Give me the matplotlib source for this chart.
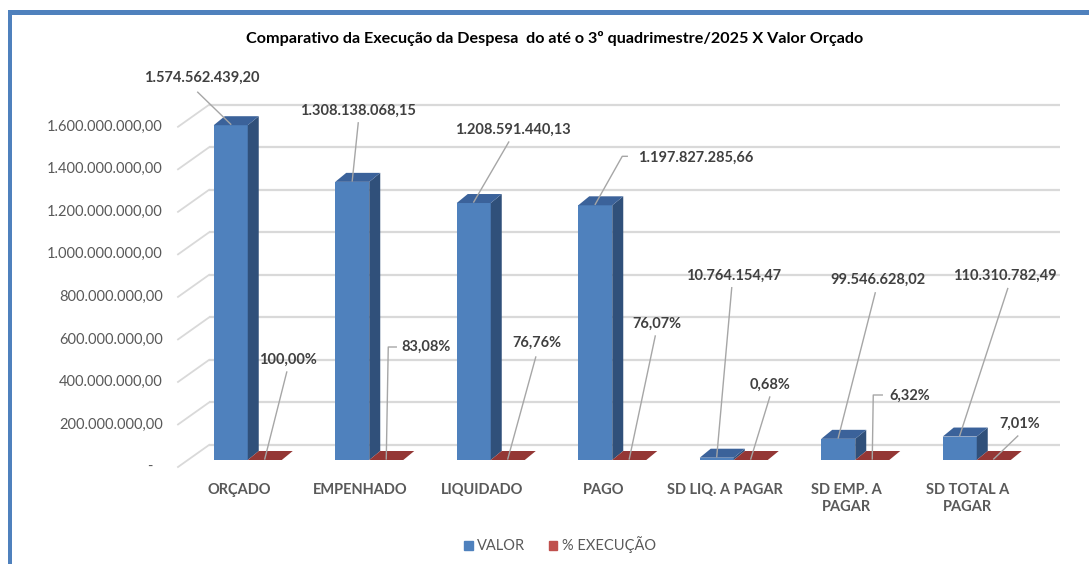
import matplotlib
matplotlib.use("Agg")
import matplotlib.pyplot as plt
from matplotlib.patches import Polygon, Rectangle, Patch
import numpy as np

plt.rcParams['font.family'] = ['Lato', 'DejaVu Sans']

# ---------------- data ----------------
categories = ["ORÇADO", "EMPENHADO", "LIQUIDADO", "PAGO",
              "SD LIQ. A PAGAR", "SD EMP. A\nPAGAR", "SD TOTAL A\nPAGAR"]
valor = [1574562439.20, 1308138068.15, 1208591440.13, 1197827285.66,
         10764154.47, 99546628.02, 110310782.49]
execucao = [1.0000, 0.8308, 0.7676, 0.7607, 0.0068, 0.0632, 0.0701]
yticks = [0, 200e6, 400e6, 600e6, 800e6, 1000e6, 1200e6, 1400e6, 1600e6]
title = "Comparativo da Execução da Despesa  do até o 3º quadrimestre/2025 X Valor Orçado"
series_names = ["VALOR", "% EXECUÇÃO"]

# ---------------- layout (pixels) ----------------
W, H = 1089, 564
AX_L, AX_R, AX_B, AX_T = 187.0, 1037.5, 460.0, 119.8
YMAX = 1.6e9
n = len(categories)
PX_X = (AX_R - AX_L) / n
PX_Y = (AX_B - AX_T) / YMAX

def off(dx, dy):
    return dx / PX_X, dy / PX_Y

BLUE = "#4F81BD"; BLUE_SIDE = "#30507A"; BLUE_TOP = "#3B629A"
RED = "#C0504D"; RED_TOP = "#943735"; RED_SIDE = "#7A2C2A"
GRID = "#D9D9D9"; TXT = "#595959"; LBL = "#404040"; LEAD = "#A6A6A6"

def fmt_br(v):
    s = f"{v:,.2f}"
    return s.replace(",", "X").replace(".", ",").replace("X", ".")

def fmt_pct(p):
    return f"{p*100:.2f}%".replace(".", ",")

fig = plt.figure(figsize=(W/100, H/100), dpi=100)
ax = fig.add_axes([AX_L/W, 1 - AX_B/H, (AX_R-AX_L)/W, (AX_B-AX_T)/H])
ax.set_xlim(-0.5, n - 0.5)
ax.set_ylim(0, YMAX)
ax.axis("off")

# borders
fig.add_artist(Rectangle((8/W, 0), 4/W, 1 - 10/H, transform=fig.transFigure,
                         color=BLUE, lw=0))
fig.add_artist(Rectangle((8/W, 1 - 15/H), 1 - 8/W, 5/H, transform=fig.transFigure,
                         color=BLUE, lw=0))

# back wall gridlines + depth diagonals
wx, wy = off(22, 15)
fx, fy = off(-9, -7)
for v in yticks:
    ax.plot([-0.5 + wx, n - 0.5 + wx], [v + wy, v + wy], color=GRID, lw=1.6,
            clip_on=False, zorder=1, solid_capstyle="butt")
    ax.plot([-0.5 + fx, -0.5 + wx], [v + fy, v + wy], color=GRID, lw=1.3,
            clip_on=False, zorder=1)
    lx, _ = off(-15, 0)
    lab = "-" if v == 0 else fmt_br(v)
    xlab = -0.5 + fx + lx + (off(-10, 0)[0] if v == 0 else 0)
    ax.text(xlab, v + fy, lab, ha="right", va="center", fontsize=10.5,
            color=TXT, clip_on=False)

# bars
x = np.arange(n)
bw = 0.28
bdx, bdy = off(11, 9)
ax.bar(x - bw/2, valor, width=bw, color=BLUE, zorder=3, lw=0)
ax.bar(x + bw/2, execucao, width=bw, color=RED, zorder=3, lw=0)

def faces(xc, v, side_c, top_c, z):
    x0, x1 = xc - bw/2, xc + bw/2
    side = Polygon([(x1, 0), (x1 + bdx, bdy), (x1 + bdx, v + bdy), (x1, v)],
                   closed=True, color=side_c, lw=0, zorder=z, clip_on=False)
    top = Polygon([(x0, v), (x1, v), (x1 + bdx, v + bdy), (x0 + bdx, v + bdy)],
                  closed=True, color=top_c, lw=0, zorder=z, clip_on=False)
    ax.add_patch(side)
    ax.add_patch(top)

for i in range(n):
    faces(x[i] - bw/2, valor[i], BLUE_SIDE, BLUE_TOP, 3)
    faces(x[i] + bw/2, execucao[i], RED_SIDE, RED_TOP, 4)

# category labels (floor front plane)
for i, c in enumerate(categories):
    _, dyl = off(0, -16)
    ax.text(x[i] + fx, fy + dyl, c, ha="center", va="top", fontsize=10.5,
            fontweight="bold", color=TXT, linespacing=1.3, clip_on=False)

# data labels: offsets in pixels from anchor (label centre, leader points)
valor_label_off = [(-29, 47), (6, 71), (39, 73), (100, 48), (17, 182), (40, 159), (45, 161)]
valor_leader = [[(-33, 33)], [(6, 59)], [(35, 61)], [(32, 49), (27, 49)],
                [(15, 170)], [(37, 146)], [(48, 148)]]
pct_label_off = [(23, 100), (40, 113), (29, 117), (28, 136), (19, 75), (37, 64), (26, 36)]
pct_leader = [[(22, 88)], [(10, 113), (2, 113)], [(28, 103)], [(26, 124)],
              [(19, 63)], [(10, 65), (1, 65)], [(24, 24)]]

def place(xa, ya, lab_off, leader, text):
    ox, oy = off(*lab_off)
    ax.text(xa + ox, ya + oy, text, ha="center", va="center", fontsize=10.5,
            fontweight="bold", color=LBL, zorder=10, clip_on=False)
    pts = [(xa + off(*p)[0], ya + off(*p)[1]) for p in leader]
    ex, ey = off(0, 1)
    pts.append((xa + ex, ya + ey))
    xs, ys = zip(*pts)
    ax.plot(xs, ys, color=LEAD, lw=1.0, zorder=9, clip_on=False)

for i in range(n):
    place(x[i] - bw/2, valor[i], valor_label_off[i], valor_leader[i], fmt_br(valor[i]))
    place(x[i] + bw/2, execucao[i], pct_label_off[i], pct_leader[i], fmt_pct(execucao[i]))

# title
fig.text(555/W, 1 - 38/H, title, ha="center", va="center", fontsize=11.6,
         fontweight="bold", color="black")

# legend
handles = [Patch(color=BLUE, label=series_names[0]),
           Patch(color=RED, label=series_names[1])]
fig.legend(handles=handles, loc="center", bbox_to_anchor=(560/W, 1 - 545/H),
           ncol=2, frameon=False, fontsize=10.5, handlelength=0.6, handleheight=0.6,
           handletextpad=0.3, columnspacing=1.6, labelcolor=TXT)

fig.savefig("out.png", dpi=100)
